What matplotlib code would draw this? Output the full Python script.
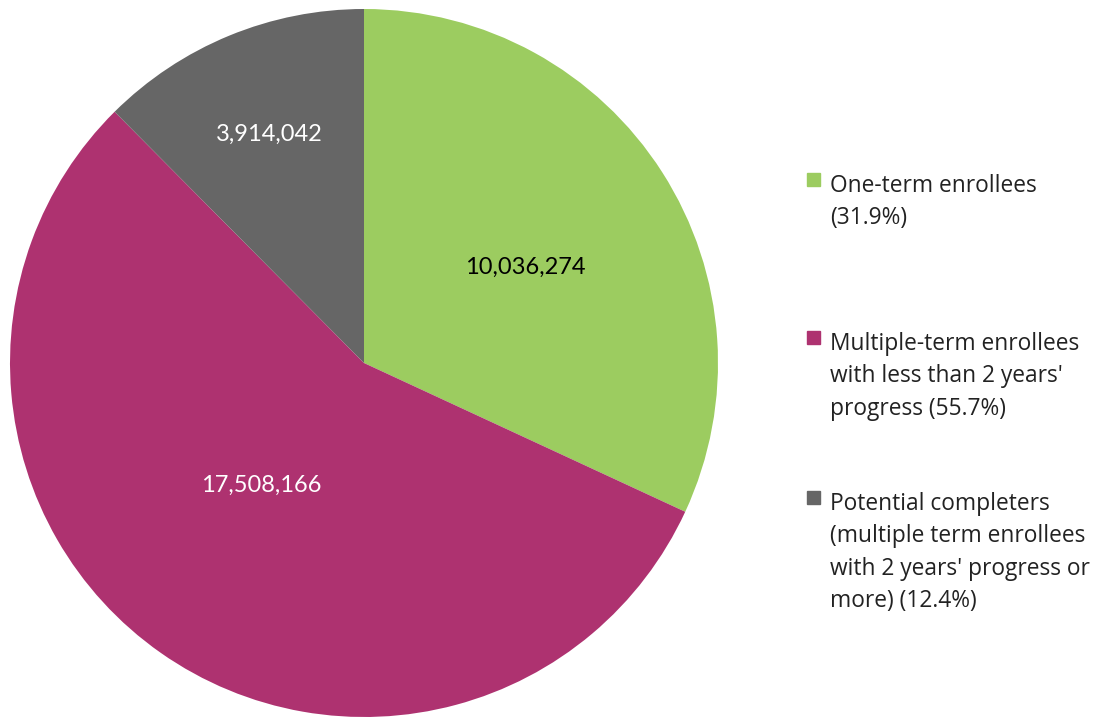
import numpy as np
import matplotlib.pyplot as plt
from matplotlib.patches import Rectangle

plt.rcParams['font.family'] = ['Lato', 'DejaVu Sans']

# data
counts = [10036274, 17508166, 3914042]
count_labels = ['10,036,274', '17,508,166', '3,914,042']
legend_labels = ['One-term enrollees\n(31.9%)',
                 "Multiple-term enrollees\nwith less than 2 years'\nprogress (55.7%)",
                 "Potential completers\n(multiple term enrollees\nwith 2 years' progress or\nmore) (12.4%)"]
colors = ['#9ccc60', '#ae3270', '#666666']
label_colors = ['#000000', '#ffffff', '#ffffff']
label_dist = [0.53, 0.45, 0.70]
label_turn = [-2, -5, 0]

W, H = 1097, 718
fig = plt.figure(figsize=(W / 100, H / 100), dpi=100)

# pie axes placed in pixel terms: centre (364, 363), radius 354
cx, cy, r = 364, 363, 354
ax = fig.add_axes([(cx - r) / W, (H - cy - r) / H, 2 * r / W, 2 * r / H])
wedges, _ = ax.pie(counts, colors=colors, startangle=90, counterclock=False,
                   radius=1, wedgeprops=dict(linewidth=0))
ax.set_xlim(-1, 1)
ax.set_ylim(-1, 1)
ax.set_aspect('equal')
ax.axis('off')

# value labels inside slices
for w, txt, col, d, t in zip(wedges, count_labels, label_colors, label_dist, label_turn):
    ang = np.deg2rad((w.theta1 + w.theta2) / 2 + t)
    ax.text(d * np.cos(ang), d * np.sin(ang), txt, ha='center', va='center',
            fontsize=17, color=col)

# legend drawn by hand
tops = [185, 343, 503]
for lab, col, ty in zip(legend_labels, colors, tops):
    fig.patches.append(Rectangle((807 / W, 1 - (ty + 1) / H), 13 / W, 13 / H,
                                 transform=fig.transFigure, color=col, figure=fig))
    fig.text(830 / W, 1 - (ty - 11) / H, lab, ha='left', va='top', fontsize=16.4,
             family=['Open Sans', 'DejaVu Sans'], color='#222222', linespacing=1.47)

fig.savefig('out.png', dpi=100)
